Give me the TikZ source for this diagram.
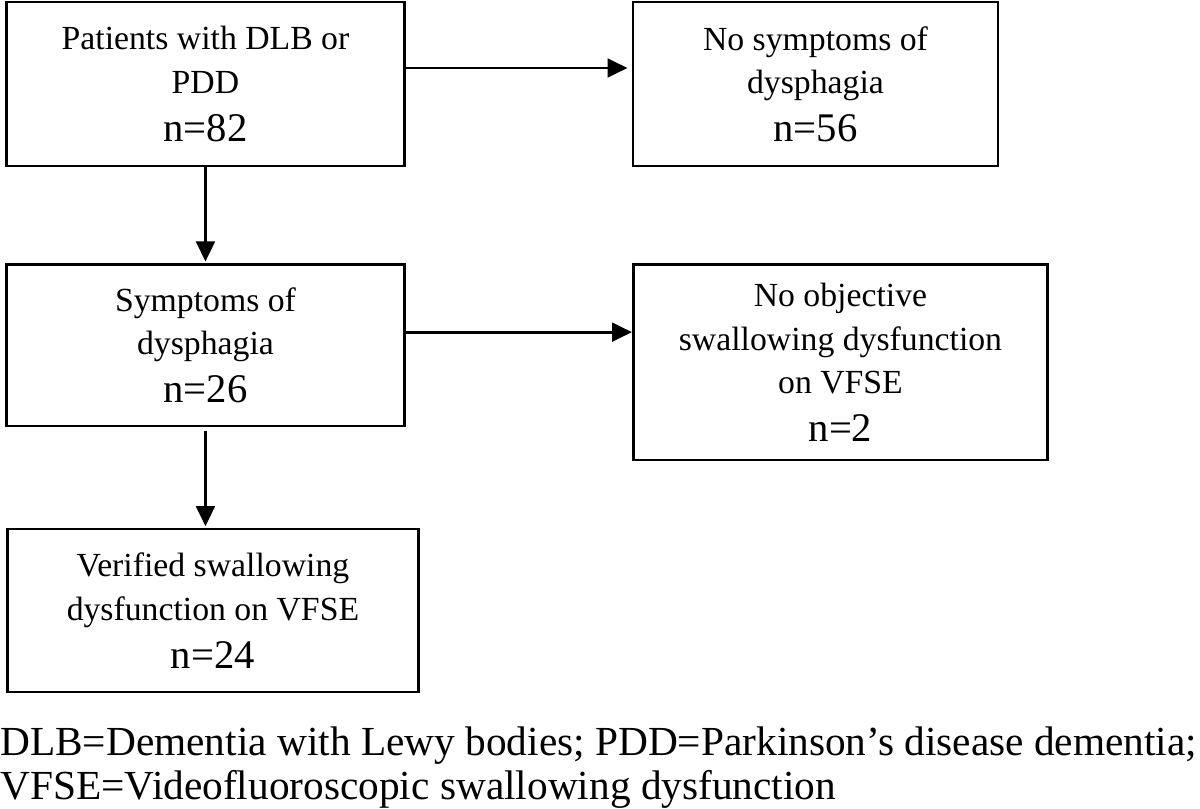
\documentclass[tikz,border=0pt]{standalone}
\usepackage{fontspec}
\setmainfont{Liberation Serif}
\usetikzlibrary{arrows.meta,positioning}

\begin{document}
\begin{tikzpicture}[box/.style={draw, line width=2.2pt, align=center, inner sep=0pt,
                    font=\fontsize{25.3}{32.5}\selectfont},
                    >={Triangle[length=15pt,width=14pt]}]
    \useasboundingbox (0,0) rectangle (900pt,-606.75pt);

    \node (1) [box, minimum width=299pt, minimum height=123pt] at (154.1pt,-63pt)
        {Patients with DLB or\\PDD\\[3.5pt]\fontsize{30.5}{32.5}\selectfont n=82};
    \node (2) [box, node distance=457.5pt, right of=1, minimum width=273.75pt, minimum height=123pt]
        {No symptoms of\\dysphagia\\[3.5pt]\fontsize{30.5}{32.5}\selectfont n=56};
    \node (3) [box, node distance=196.1pt, below of=1, minimum width=298.5pt, minimum height=120.75pt]
        {Symptoms of\\dysphagia\\[3.5pt]\fontsize{30.5}{32.5}\selectfont n=26};
    \node (4) [box, node distance=476.25pt, right of=3, yshift=-12.75pt, minimum width=310.5pt, minimum height=146.25pt]
        {No objective\\swallowing dysfunction\\on VFSE\\[3.5pt]\fontsize{30.5}{32.5}\selectfont n=2};
    \node (5) [box, node distance=198.75pt, below of=3, xshift=5.6pt, minimum width=308.25pt, minimum height=122.25pt]
        {Verified swallowing\\dysfunction on VFSE\\[3.5pt]\fontsize{30.5}{32.5}\selectfont n=24};

    % footnote, base = last line
    \node (note) [anchor=base west, align=left, inner sep=0pt, font=\fontsize{31}{33}\selectfont] at (0pt,-599.25pt)
        {DLB=Dementia with Lewy bodies; PDD=Parkinson’s disease dementia;\\VFSE=Videofluoroscopic swallowing dysfunction};

    \path[->, line width=2.2pt] ([yshift=12pt]1.east) edge [shorten >=3pt] ([yshift=12pt]2.west)
              (1) edge [shorten >=1.5pt] (3)
              ([yshift=10pt]3.east) edge ([yshift=10pt]3.east -| 4.west)
              (3.south) edge [shorten <=3pt, shorten >=1pt] (3.south |- 5.north);

\end{tikzpicture}
\end{document}
